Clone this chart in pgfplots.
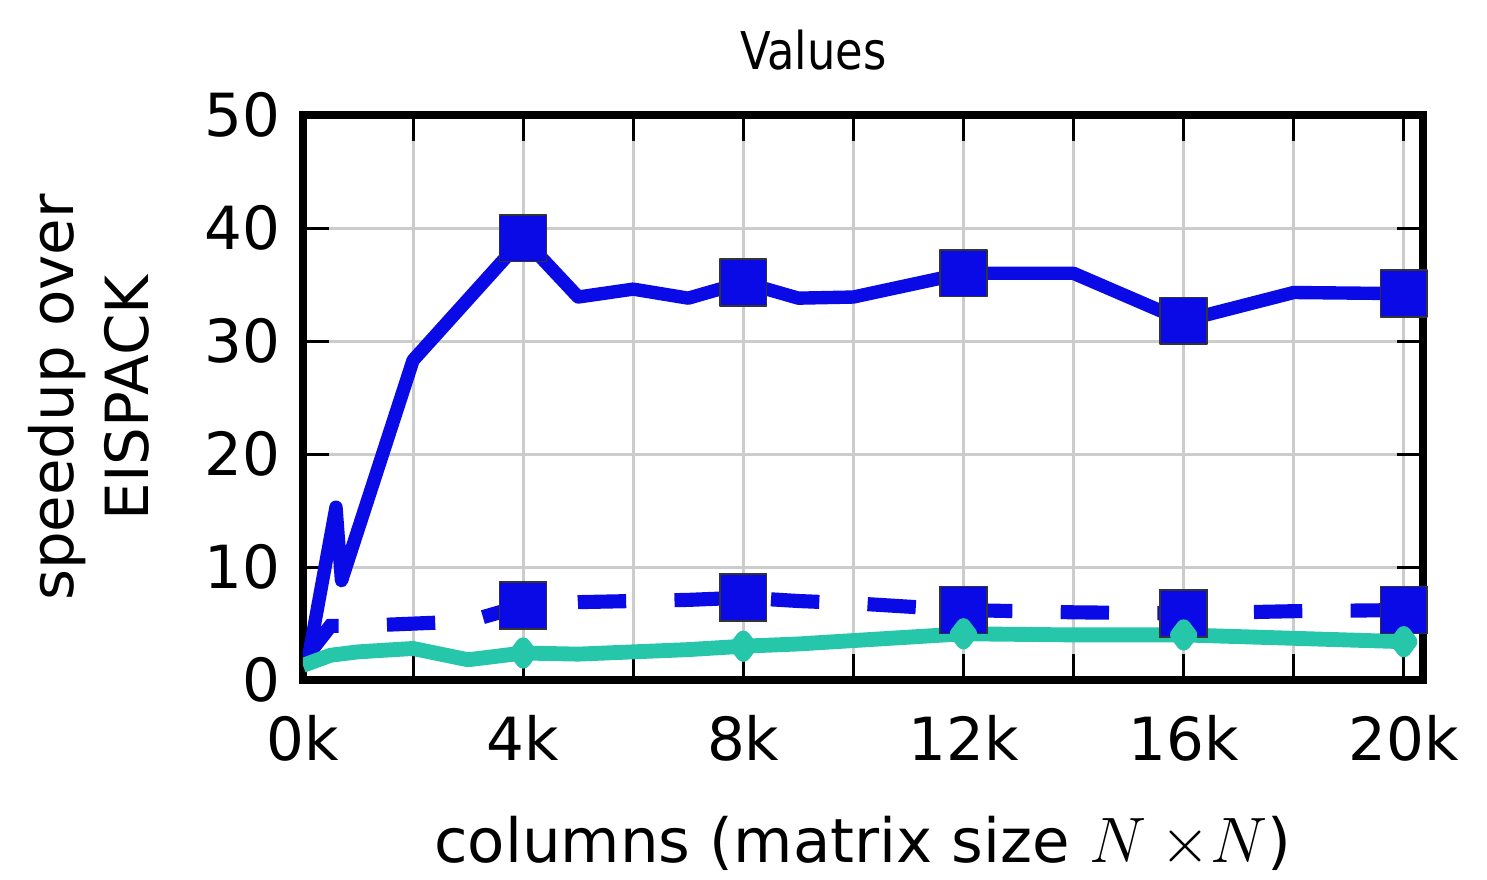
\documentclass[border=0pt]{standalone}
\usepackage{pgfplots}
\usepackage{pgfplotstable}
\pgfplotsset{compat=1.18}
\usepackage{fontspec}
\setmainfont{DejaVu Sans}
\newfontfamily\titlefont[FakeStretch=0.86]{DejaVu Sans}

\definecolor{lineblue}{RGB}{10,10,230}
\definecolor{lineteal}{RGB}{38,198,170}

% speedup, one table per variant (x in thousands of columns)
\pgfplotstableread{
x y
0.1 2.0
0.6 15.3
0.7 8.8
2 28.3
4 39.1
5 33.9
6 34.6
7 33.8
8 35.2
9 33.8
10 33.9
12 36.0
14 36.0
16 31.8
18 34.3
20 34.2
}\solidtab

\pgfplotstableread{
x y
0.05 2.0
0.5 4.8
1 4.8
2 5.0
3 5.2
4 6.6
5 6.9
6 7.0
7 7.1
8 7.3
9 7.0
10 6.8
12 6.2
14 6.0
16 5.9
18 6.1
20 6.2
}\dashedtab

\pgfplotstableread{
x y
0 1.3
0.5 2.2
1 2.5
2 2.8
3 1.8
4 2.4
5 2.3
6 2.5
7 2.7
8 3.0
9 3.2
10 3.5
12 4.1
14 4.0
16 4.0
18 3.7
20 3.4
}\tealtab

\begin{document}
\begin{tikzpicture}
\useasboundingbox (-81.5pt,-53.5pt) rectangle (318.5pt,182.95pt);
\begin{axis}[
  at={(0,0)}, anchor=south west,
  scale only axis, width=301.3pt, height=152pt,
  xmin=0, xmax=20.35, ymin=0, ymax=50,
  xtick={0,2,...,20},
  xticklabels={0k,,4k,,8k,,12k,,16k,,20k},
  ytick={0,10,...,50},
  grid=major,
  major grid style={line width=0.8pt, color=black!20},
  tick align=inside,
  major tick length=7pt,
  every tick/.style={black, line width=0.8pt},
  axis line style={line width=2pt},
  ticklabel style={font=\fontsize{16}{19}\selectfont},
  /pgf/number format/assume math mode=true,
  xticklabel style={anchor=base, yshift=-21.5pt},
  yticklabel style={anchor=east, inner sep=0pt, xshift=-6pt},
  title={Values},
  title style={font=\titlefont\fontsize{14}{16}\selectfont, at={(axis description cs:0.5,1)}, anchor=base, yshift=6.2pt, xshift=-13.4pt},
  xlabel={columns (matrix size $N\:{\times}N$)},
  xlabel style={font=\fontsize{16.4}{19}\selectfont, at={(axis description cs:0.5,0)}, anchor=base, yshift=-49pt},
  ylabel={speedup over\\EISPACK},
  ylabel style={font=\fontsize{16}{20.2}\selectfont, align=center, at={(axis description cs:-0.1367,0.5)}, anchor=south, inner sep=0pt},
]
\addplot[lineblue, line width=3.6pt, line join=round,
  mark=square*, mark size=6.3pt, mark indices={5,9,12,14,16},
  mark options={solid, fill=lineblue, draw=black!80, line width=0.4pt}]
  table[x=x, y=y] {\solidtab};
\addplot[lineblue, line width=3.8pt, dash pattern=on 13pt off 13pt,
  mark=square*, mark size=6.3pt, mark indices={6,10,13,15,17},
  mark options={solid, fill=lineblue, draw=black!80, line width=0.4pt}]
  table[x=x, y=y] {\dashedtab};
\addplot[lineteal, line width=4pt, line join=round,
  mark=diamond*, mark size=2.2pt, mark indices={6,10,13,15,17},
  mark options={solid, fill=lineteal, draw=lineteal}]
  table[x=x, y=y] {\tealtab};
\end{axis}
\end{tikzpicture}
\end{document}
